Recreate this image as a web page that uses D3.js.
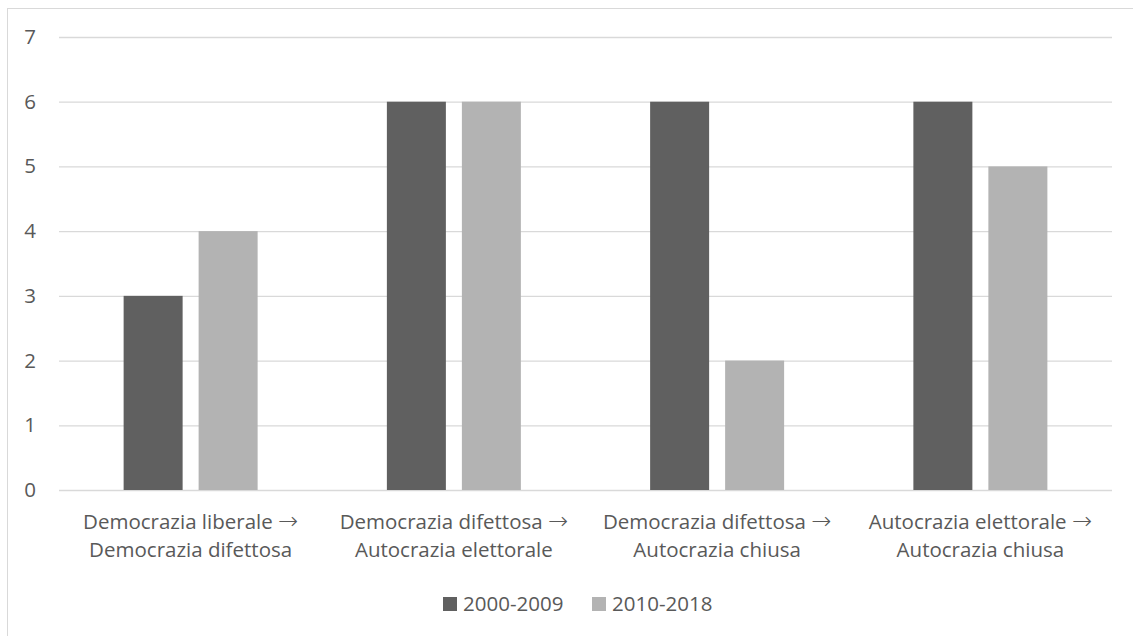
<!DOCTYPE html>
<html>
<head>
<meta charset="utf-8">
<script src="https://cdn.jsdelivr.net/npm/d3@7"></script>
<style>
  html, body { margin: 0; padding: 0; background: #fff; }
  svg { display: block; }
  text { font-family: "Open Sans", "Noto Sans", sans-serif; fill: #595959; }
  .arrow { font-family: "DejaVu Sans", sans-serif; font-weight: 200; }
</style>
</head>
<body>
<svg id="chart" width="1133" height="636"></svg>
<script>
const categories = [
  ["Democrazia liberale \u2192", "Democrazia difettosa"],
  ["Democrazia difettosa \u2192", "Autocrazia elettorale"],
  ["Democrazia difettosa \u2192", "Autocrazia chiusa"],
  ["Autocrazia elettorale \u2192", "Autocrazia chiusa"]
];
const seriesNames = ["2000-2009", "2010-2018"];
const series2000 = [3, 6, 6, 6];
const series2010 = [4, 6, 2, 5];
const seriesColors = ["#606060", "#b3b3b3"];
const yTicks = [0, 1, 2, 3, 4, 5, 6, 7];

const FS = 20.5;
const svg = d3.select("#chart");
const W = 1133, H = 636;
const plot = { left: 59, right: 1112, top: 37, bottom: 490 };

// chart border
svg.append("rect")
  .attr("x", 7.5).attr("y", 8.5)
  .attr("width", W + 10).attr("height", H + 10)
  .attr("fill", "none").attr("stroke", "#d9d9d9").attr("stroke-width", 1);

const catKeys = categories.map((c, i) => i);
const x0 = d3.scaleBand().domain(catKeys).range([plot.left, plot.right]).padding(0);
const bw = x0.bandwidth();
const groupW = 134;
const x1 = d3.scaleBand().domain(seriesNames)
  .range([(bw - groupW) / 2, (bw + groupW) / 2])
  .paddingInner(2 - groupW / 75).paddingOuter(0);
const y = d3.scaleLinear().domain([0, 7]).range([plot.bottom, plot.top]);

// gridlines
const yAxis = d3.axisLeft(y).tickValues(yTicks).tickSize(-(plot.right - plot.left)).tickPadding(23).tickFormat(d3.format("d"));
const gy = svg.append("g").attr("transform", `translate(${plot.left},0)`).call(yAxis);
gy.select(".domain").remove();
gy.selectAll(".tick line").attr("stroke", "#d9d9d9").attr("stroke-width", 1.3);
gy.selectAll(".tick text").attr("font-size", FS).attr("fill", "#595959")
  .style("font-family", '"Open Sans", sans-serif');

// bars
const data = categories.map((c, i) => ({ i, values: [series2000[i], series2010[i]] }));
const groups = svg.append("g").selectAll("g").data(data).join("g")
  .attr("transform", d => `translate(${x0(d.i)},0)`);
groups.selectAll("rect").data(d => d.values.map((v, k) => ({ v, k })))
  .join("rect")
  .attr("x", d => x1(seriesNames[d.k]))
  .attr("width", x1.bandwidth())
  .attr("y", d => y(d.v))
  .attr("height", d => y(0) - y(d.v))
  .attr("fill", d => seriesColors[d.k]);

// category labels
const xAxis = d3.axisBottom(x0).tickSize(0).tickFormat(() => "");
const gx = svg.append("g").attr("transform", `translate(0,${plot.bottom})`).call(xAxis);
gx.select(".domain").remove();
gx.selectAll(".tick").each(function(d) {
  const t = d3.select(this).append("text")
    .attr("text-anchor", "middle").attr("font-size", FS).attr("fill", "#595959");
  categories[d].forEach((line, j) => {
    const ts = t.append("tspan").attr("x", 0).attr("y", 39 + j * 28);
    if (line.endsWith("\u2192")) {
      ts.text(line.slice(0, -1));
      t.append("tspan").attr("class", "arrow").attr("font-size", 24).text("\u2192");
    } else {
      ts.text(line);
    }
  });
});

// legend
const legend = svg.append("g");
const legendX = [443, 592];
seriesNames.forEach((name, k) => {
  legend.append("rect").attr("x", legendX[k]).attr("y", 597).attr("width", 14).attr("height", 14)
    .attr("fill", seriesColors[k]);
  legend.append("text").attr("x", legendX[k] + 20).attr("y", 611)
    .attr("font-size", FS).text(name);
});
</script>
</body>
</html>
